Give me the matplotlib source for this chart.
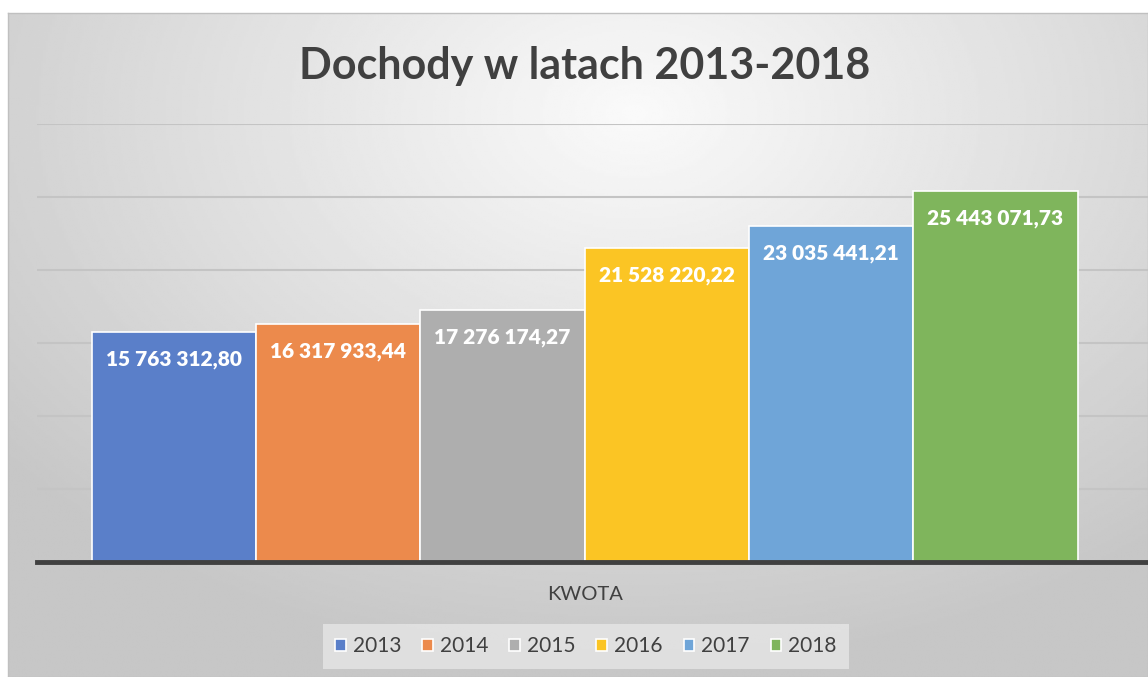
import numpy as np
import matplotlib.pyplot as plt

years = ['2013', '2014', '2015', '2016', '2017', '2018']
values = [15763312.80, 16317933.44, 17276174.27, 21528220.22, 23035441.21, 25443071.73]
labels = ['15 763 312,80', '16 317 933,44', '17 276 174,27', '21 528 220,22',
          '23 035 441,21', '25 443 071,73']
colors = ['#5a7fc9', '#ec8a4c', '#aeaeae', '#fbc524', '#6fa5d8', '#7fb55c']

W, H = 1148, 677
fig = plt.figure(figsize=(W / 100, H / 100), dpi=100)
fig.patch.set_facecolor('white')

# gradient background of the chart area
bg = fig.add_axes([8 / W, 0, 1 - 8 / W, 1 - 13 / H])
yy, xx = np.mgrid[0:1:300j, 0:1:500j]
r = np.sqrt(((xx - 0.55) / 0.85) ** 2 + ((yy - 0.15) / 1.0) ** 2)
shade = np.clip(0.98 - 0.24 * r, 0.78, 0.98)
bg.imshow(shade, cmap='gray', vmin=0, vmax=1, aspect='auto', extent=[0, 1, 1, 0])
bg.set_xticks([])
bg.set_yticks([])
for s in bg.spines.values():
    s.set_color('#c0c0c0')
    s.set_linewidth(1)

ax = fig.add_axes([37 / W, 1 - 562 / H, 1 - 37 / W, (562 - 124) / H])
ax.patch.set_alpha(0)
x = np.arange(len(years))
unit = 164.3
x0 = (174 - 37) / unit
ax.set_xlim(-x0, -x0 + (W - 37) / unit)
ax.set_ylim(0, 30e6)

bars = ax.bar(x, values, width=1.0, color=colors, edgecolor='white', linewidth=1.2,
              zorder=3)
for b, lab in zip(bars, labels):
    ax.annotate(lab, (b.get_x() + b.get_width() / 2, b.get_height()),
                xytext=(0, -28), textcoords='offset pixels',
                ha='center', va='center', color='white', fontsize=15,
                fontweight='heavy', family='Lato', zorder=4)

ax.set_yticks(np.arange(5e6, 30.1e6, 5e6))
ax.yaxis.grid(True, color='#c4c4c4', linewidth=1.5, zorder=0)
ax.tick_params(left=False, bottom=False, labelleft=False, labelbottom=False)
for s in ['top', 'right', 'left']:
    ax.spines[s].set_visible(False)
ax.spines['bottom'].set_color('#404040')
ax.spines['bottom'].set_linewidth(3.5)
ax.spines['bottom'].set_zorder(5)

fig.text(585 / W, 1 - 66 / H, 'Dochody w latach 2013-2018', ha='center', va='center',
         fontsize=31, fontweight='bold', color='#404040', family='Lato')
fig.text(585 / W, 1 - 594 / H, 'KWOTA', ha='center', va='center',
         fontsize=14.5, color='#404040', family='Lato')

leg = fig.legend(bars, years, loc='center', bbox_to_anchor=(586 / W, 1 - 646 / H),
                 ncol=6, frameon=True, handlelength=0.5, handleheight=0.5,
                 handletextpad=0.35, columnspacing=1.0, borderpad=0.6,
                 prop={'family': 'Lato', 'size': 15})
leg.get_frame().set_facecolor('#e6e6e6')
leg.get_frame().set_edgecolor('none')
leg.get_frame().set_boxstyle('square', pad=0)
for t in leg.get_texts():
    t.set_color('#404040')

fig.savefig('out.png', dpi=100)
